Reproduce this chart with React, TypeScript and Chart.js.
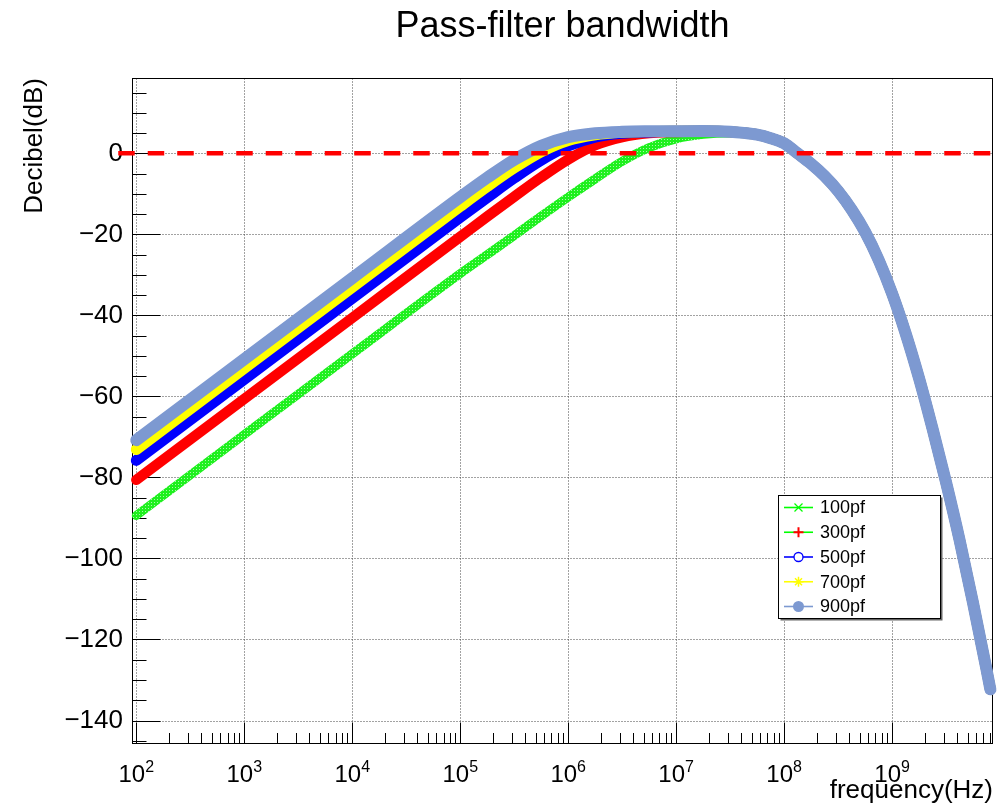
import React, { useEffect, useRef } from "react";
import { Chart, registerables } from "chart.js";

Chart.register(...registerables);

// ---------------- data ----------------
const frequencies = [
  1e2, 1e3, 1e4, 1e5, 1.78e5, 3.16e5, 5.62e5, 1e6, 1.78e6, 3.16e6, 5.62e6, 1e7, 1.78e7,
  3.16e7, 4.22e7, 5.62e7, 7.5e7, 1e8, 1.33e8, 1.78e8, 2.37e8, 3.16e8, 4.22e8, 5.62e8, 7.5e8,
  1e9, 1.33e9, 1.78e9, 2.37e9, 3.16e9, 4.22e9, 5.62e9, 7.5e9, 8.13e9,
];

// low-frequency part (100 Hz .. 17.8 MHz), one per capacitor value
const head100pf = [-89.4, -69.4, -49.5, -29.7, -25.0, -20.3, -15.5, -10.8, -6.3, -2.0, 1.4, 3.6, 4.7];
const head300pf = [-80.6, -60.6, -40.6, -20.6, -15.6, -10.7, -5.9, -1.5, 2.0, 4.0, 5.0, 5.3, 5.45];
const head500pf = [-75.8, -55.8, -35.8, -15.8, -10.9, -6.1, -1.7, 1.8, 4.0, 4.95, 5.3, 5.44, 5.5];
const head700pf = [-73.1, -53.1, -33.1, -13.1, -8.2, -3.6, 0.4, 3.2, 4.6, 5.2, 5.4, 5.47, 5.5];
const head900pf = [-70.8, -50.8, -30.8, -10.8, -6.0, -1.6, 1.85, 4.0, 4.96, 5.32, 5.44, 5.48, 5.5];

// high-frequency roll-off (31.6 MHz .. 8.13 GHz), common to all curves
const tailCommon = [5.35, 5.05, 4.6, 3.75, 2.5, 0, -2.6, -5.6, -9.3, -13.9, -19.4, -26.3, -34.6, -44.3, -55.6, -68.0, -81.2, -95.5, -111.0, -127.5, -132.3];
const tail100pf = [5.05, 4.95, 4.55, 3.75, 2.5, 0, -2.6, -5.6, -9.3, -13.9, -19.4, -26.3, -34.6, -44.3, -55.6, -68.0, -81.2, -95.5, -111.0, -127.5, -132.3];

const db100pf = [...head100pf, ...tail100pf];
const db300pf = [...head300pf, ...tailCommon];
const db500pf = [...head500pf, ...tailCommon];
const db700pf = [...head700pf, ...tailCommon];
const db900pf = [...head900pf, ...tailCommon];

const seriesLabels = ["100pf", "300pf", "500pf", "700pf", "900pf"];
const seriesColors = ["#00ff00", "#ff0000", "#0000ff", "#ffff00", "#7d99d1"];
const legendLineColors = ["#00ff00", "#00ff00", "#0000ff", "#ffff00", "#7d99d1"];
const legendMarkers = ["cross", "plus", "circle", "star", "dot"];

// reference line at 0 dB
const zeroLineFreq = [68, 8.6e9];
const zeroLineDb = [0, 0];

// axes
const xRange = [91.2, 8.6e9];
const yRange = [-145.8, 18.6];
const xDecadeExponents = [2, 3, 4, 5, 6, 7, 8, 9];
const yMajorTicks = [-140, -120, -100, -80, -60, -40, -20, 0];
const yMinorStep = 5;

const titleText = "Pass-filter bandwidth";
const xTitle = "frequency(Hz)";
const yTitle = "Decibel(dB)";

const FONT = "'Liberation Sans', Arial, Helvetica, sans-serif";

// ---------------- plugins ----------------
const axesPlugin = {
  id: "rootAxes",
  beforeDatasetsDraw(chart: any) {
    const { ctx, chartArea: a, scales } = chart;
    const xs = scales.x;
    const ys = scales.y;
    const L = Math.round(a.left) + 0.5;
    const R = Math.round(a.right) - 0.5;
    const T = Math.round(a.top) + 0.5;
    const B = Math.round(a.bottom) - 0.5;
    ctx.save();
    // grid
    ctx.strokeStyle = "#444";
    ctx.lineWidth = 1;
    ctx.setLineDash([1, 2]);
    ctx.beginPath();
    for (const e of xDecadeExponents) {
      const px = Math.round(xs.getPixelForValue(Math.pow(10, e))) + 0.5;
      ctx.moveTo(px, T);
      ctx.lineTo(px, B);
    }
    for (const v of yMajorTicks) {
      const py = Math.round(ys.getPixelForValue(v)) + 0.5;
      ctx.moveTo(L, py);
      ctx.lineTo(R, py);
    }
    ctx.stroke();
    ctx.setLineDash([]);

    // frame
    ctx.strokeStyle = "#000";
    ctx.lineWidth = 1;
    ctx.strokeRect(L, T, R - L, B - T);

    // x ticks
    ctx.beginPath();
    for (let e = 1; e <= 10; e++) {
      for (let m = 1; m <= 9; m++) {
        const v = m * Math.pow(10, e);
        if (v < xRange[0] || v > xRange[1]) continue;
        const px = Math.round(xs.getPixelForValue(v)) + 0.5;
        const len = m === 1 ? 21 : 10.5;
        ctx.moveTo(px, B);
        ctx.lineTo(px, B - len);
      }
    }
    // y ticks
    for (let v = Math.ceil(yRange[0] / yMinorStep) * yMinorStep; v <= yRange[1]; v += yMinorStep) {
      const py = Math.round(ys.getPixelForValue(v)) + 0.5;
      const len = v % 20 === 0 ? 28 : 14;
      ctx.moveTo(L, py);
      ctx.lineTo(L + len, py);
    }
    ctx.stroke();

    // y labels
    ctx.fillStyle = "#000";
    ctx.font = `26px ${FONT}`;
    ctx.textAlign = "right";
    ctx.textBaseline = "middle";
    for (const v of yMajorTicks) {
      const py = ys.getPixelForValue(v);
      const s = v < 0 ? "\u2212" + Math.abs(v) : String(v);
      ctx.fillText(s, a.left - 9, py);
    }

    // x labels 10^n
    ctx.textAlign = "left";
    ctx.textBaseline = "alphabetic";
    for (const e of xDecadeExponents) {
      const px = xs.getPixelForValue(Math.pow(10, e));
      ctx.font = `24px ${FONT}`;
      const w1 = ctx.measureText("10").width;
      ctx.font = `16px ${FONT}`;
      const w2 = ctx.measureText(String(e)).width;
      const start = px - (w1 + w2) / 2;
      ctx.font = `24px ${FONT}`;
      ctx.fillText("10", start, a.bottom + 38);
      ctx.font = `16px ${FONT}`;
      ctx.fillText(String(e), start + w1, a.bottom + 28);
    }

    // axis titles
    ctx.font = `26px ${FONT}`;
    ctx.textAlign = "right";
    ctx.fillText(xTitle, a.right, a.bottom + 54);

    ctx.save();
    ctx.font = `26px ${FONT}`;
    ctx.translate(42, a.top);
    ctx.rotate(-Math.PI / 2);
    ctx.textAlign = "right";
    ctx.fillText(yTitle, 0, 0);
    ctx.restore();

    // main title
    ctx.font = `36px ${FONT}`;
    ctx.textAlign = "center";
    ctx.fillText(titleText, (a.left + a.right) / 2, 37);
    ctx.restore();
  },
  afterDraw(chart: any) {
    const { ctx } = chart;
    ctx.save();
    const bx = 778.5, by = 495.5, bw = 162, bh = 123;
    ctx.fillStyle = "#666";
    ctx.fillRect(bx + 2, by + 2, bw, bh);
    ctx.fillStyle = "#fff";
    ctx.fillRect(bx, by, bw, bh);
    ctx.strokeStyle = "#000";
    ctx.lineWidth = 1;
    ctx.strokeRect(bx, by, bw, bh);
    const rowH = 24.75;
    for (let i = 0; i < seriesLabels.length; i++) {
      const cy = by + 12 + rowH * i;
      ctx.strokeStyle = legendLineColors[i];
      ctx.lineWidth = 1.6;
      ctx.beginPath();
      ctx.moveTo(784, cy);
      ctx.lineTo(813, cy);
      ctx.stroke();
      const mx = 798.5;
      const col = seriesColors[i];
      ctx.strokeStyle = col;
      ctx.fillStyle = col;
      ctx.beginPath();
      const mk = legendMarkers[i];
      if (mk === "cross") {
        ctx.lineWidth = 1.2;
        ctx.moveTo(mx - 4, cy - 4); ctx.lineTo(mx + 4, cy + 4);
        ctx.moveTo(mx - 4, cy + 4); ctx.lineTo(mx + 4, cy - 4);
        ctx.stroke();
      } else if (mk === "plus") {
        ctx.lineWidth = 2;
        ctx.moveTo(mx - 5, cy); ctx.lineTo(mx + 5, cy);
        ctx.moveTo(mx, cy - 5); ctx.lineTo(mx, cy + 5);
        ctx.stroke();
      } else if (mk === "circle") {
        ctx.lineWidth = 1.3;
        ctx.fillStyle = "#fff";
        ctx.arc(mx, cy, 4.5, 0, Math.PI * 2);
        ctx.fill();
        ctx.stroke();
      } else if (mk === "star") {
        ctx.lineWidth = 1.5;
        ctx.moveTo(mx - 5, cy); ctx.lineTo(mx + 5, cy);
        ctx.moveTo(mx, cy - 5); ctx.lineTo(mx, cy + 5);
        ctx.moveTo(mx - 3.5, cy - 3.5); ctx.lineTo(mx + 3.5, cy + 3.5);
        ctx.moveTo(mx - 3.5, cy + 3.5); ctx.lineTo(mx + 3.5, cy - 3.5);
        ctx.stroke();
      } else {
        ctx.arc(mx, cy, 5.5, 0, Math.PI * 2);
        ctx.fill();
      }
      ctx.fillStyle = "#000";
      ctx.font = `18px ${FONT}`;
      ctx.textAlign = "left";
      ctx.textBaseline = "middle";
      ctx.fillText(seriesLabels[i], 820, cy + 1);
    }
    ctx.restore();
  },
};

function pts(ys: number[]) {
  return frequencies.map((f, i) => ({ x: f, y: ys[i] }));
}

function makeGreenPattern(ctx: CanvasRenderingContext2D) {
  const c = document.createElement("canvas");
  c.width = 6;
  c.height = 6;
  const g = c.getContext("2d")!;
  g.fillStyle = "#1ef01e";
  g.fillRect(0, 0, 6, 6);
  g.fillStyle = "#a8f8a8";
  g.fillRect(1, 1, 1, 1);
  g.fillRect(4, 4, 1, 1);
  g.fillRect(4, 1, 1, 1);
  g.fillRect(1, 4, 1, 1);
  return ctx.createPattern(c, "repeat");
}

export default function App() {
  const ref = useRef<HTMLCanvasElement | null>(null);
  useEffect(() => {
    document.body.style.margin = "0";
    document.body.style.overflow = "hidden";
    const canvas = ref.current;
    if (!canvas) return;
    const ctx2d = canvas.getContext("2d")!;
    const greenPattern = makeGreenPattern(ctx2d) || seriesColors[0];
    const allSeries = [db100pf, db300pf, db500pf, db700pf, db900pf];
    const widths = [9, 10.5, 11, 11, 12];
    const datasets: any[] = allSeries.map((s, i) => ({
      label: seriesLabels[i],
      data: pts(s),
      borderColor: i === 0 ? greenPattern : seriesColors[i],
      backgroundColor: seriesColors[i],
      borderWidth: widths[i],
      pointRadius: 0,
      fill: false,
      cubicInterpolationMode: "monotone",
      borderCapStyle: "round",
      borderJoinStyle: "round",
      order: 5 - i,
      clip: false,
    }));
    datasets.push({
      label: "zero",
      data: zeroLineFreq.map((f, i) => ({ x: f, y: zeroLineDb[i] })),
      borderColor: "#ff0000",
      borderWidth: 4.5,
      borderDash: [16.5, 13],
      pointRadius: 0,
      fill: false,
      order: 0,
      clip: false,
    });
    const chart = new Chart(canvas, {
      type: "line",
      data: { datasets },
      options: {
        animation: false,
        responsive: false,
        maintainAspectRatio: false,
        layout: { padding: { left: 132, right: 11, top: 78, bottom: 61 } },
        plugins: { legend: { display: false }, title: { display: false }, tooltip: { enabled: false } },
        scales: {
          x: { type: "logarithmic", min: xRange[0], max: xRange[1], display: false },
          y: { type: "linear", min: yRange[0], max: yRange[1], display: false },
        },
      },
      plugins: [axesPlugin],
    });
    return () => chart.destroy();
  }, []);
  return (
    <div style={{ width: 1004, height: 805 }}>
      <canvas ref={ref} width={1004} height={805} style={{ display: "block" }} />
    </div>
  );
}
